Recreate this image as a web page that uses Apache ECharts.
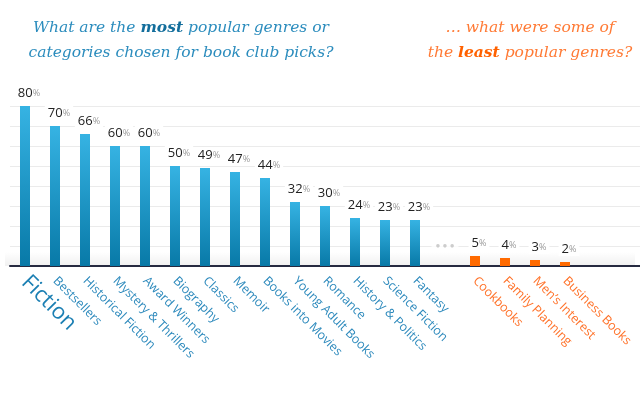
<!DOCTYPE html>
<html>
<head>
<meta charset="utf-8">
<script src="https://cdn.jsdelivr.net/npm/echarts@6/dist/echarts.min.js"></script>
<style>html,body{margin:0;padding:0;background:#fff;}#c{width:640px;height:394px;}</style>
</head>
<body>
<div id="c"></div>
<script>
const mostGenres = ['Fiction','Bestsellers','Historical Fiction','Mystery & Thrillers','Award Winners','Biography','Classics','Memoir','Books into Movies','Young Adult Books','Romance','History & Politics','Science Fiction','Fantasy'];
const mostValues = [80,70,66,60,60,50,49,47,44,32,30,24,23,23];
const leastGenres = ['Cookbooks','Family Planning','Men\u2019s Interest','Business Books'];
const leastValues = [5,4,3,2];
const yTicks = [0,10,20,30,40,50,60,70,80];

const gapIndex = mostGenres.length;
const categories = mostGenres.concat([' '], leastGenres, ['  ', '   ']);
const firstLeast = gapIndex + 1;

const BLUE = new echarts.graphic.LinearGradient(0,0,0,1,[{offset:0,color:'#36b3e3'},{offset:1,color:'#0879a7'}]);
const ORANGE = '#ff6a00';

const barData = [];
mostValues.forEach(v => barData.push({value:v, itemStyle:{color:BLUE}}));
barData.push({value:null});
leastValues.forEach(v => barData.push({value:v, itemStyle:{color:ORANGE}}));

const chart = echarts.init(document.getElementById('c'), null, {renderer:'canvas'});
chart.setOption({
  animation:false,
  backgroundColor:'#fff',
  title:[
    {text:'What are the {b|most} popular genres or\ncategories chosen for book club picks?', left:176, top:10, textAlign:'center',
     textStyle:{fontFamily:'DejaVu Serif', fontStyle:'italic', fontWeight:'normal', fontSize:15.5, color:'#2b8cbd', lineHeight:25,
       rich:{b:{fontFamily:'DejaVu Serif', fontStyle:'italic', fontWeight:'bold', fontSize:15.5, color:'#136e9c', lineHeight:25}}}},
    {text:'\u2026 what were some of\nthe {b|least} popular genres?', left:525, top:10, textAlign:'center',
     textStyle:{fontFamily:'DejaVu Serif', fontStyle:'italic', fontWeight:'normal', fontSize:15.5, color:'#ff7a35', lineHeight:25, align:'center',
       rich:{b:{fontFamily:'DejaVu Serif', fontStyle:'italic', fontWeight:'bold', fontSize:15.5, color:'#ff6100', lineHeight:25}}}}
  ],
  grid:{left:10, right:0, top:106, bottom:128},
  graphic:[{type:'rect', shape:{x:5, y:252, width:630, height:14}, z:0, silent:true,
    style:{fill:new echarts.graphic.LinearGradient(0,0,0,1,[{offset:0,color:'rgba(0,0,0,0)'},{offset:1,color:'rgba(0,0,0,0.06)'}])}}],
  xAxis:{type:'category', data:categories,
    axisTick:{show:false},
    axisLine:{lineStyle:{color:'#262a40', width:2}},
    axisLabel:{interval:0, rotate:-45, margin:13, fontFamily:'Open Sans',
      formatter:(v,i)=>{
        if(!v.trim()) return '';
        if(i===0) return '{big|'+v+'}';
        if(i>=firstLeast) return '{o|'+v+'}';
        return '{n|'+v+'}';
      },
      rich:{
        big:{fontFamily:'Open Sans', fontSize:22, color:'#1b7fb3'},
        n:{fontFamily:'Open Sans', fontSize:12.5, color:'#2c89bc'},
        o:{fontFamily:'Open Sans', fontSize:12.5, color:'#ff7128'}
      }}
  },
  yAxis:{type:'value', min:yTicks[0], max:yTicks[yTicks.length-1], interval:yTicks[1]-yTicks[0],
    axisLabel:{show:false}, axisLine:{show:false}, axisTick:{show:false},
    splitLine:{lineStyle:{color:'#ebebeb', width:1}}},
  series:[
    {type:'bar', data:barData, barWidth:10, z:3,
     label:{show:true, position:'top', distance:6, offset:[4,0],
       backgroundColor:'#fff', padding:[1,3,0,3],
       formatter:p=> p.value==null ? '' : '{a|'+p.value+'}{p|%}',
       rich:{a:{fontFamily:'Open Sans', fontSize:13, color:'#222'}, p:{fontFamily:'Open Sans', fontSize:9, color:'#9a9a9a'}}}},
    {type:'scatter', data:[[gapIndex, 10]], symbolSize:0, z:4,
     label:{show:true, position:'inside', formatter:'\u25cf \u25cf \u25cf', color:'#c0c0c0', fontSize:8, backgroundColor:'#fff', padding:[2,4]}}
  ]
});
</script>
</body>
</html>
